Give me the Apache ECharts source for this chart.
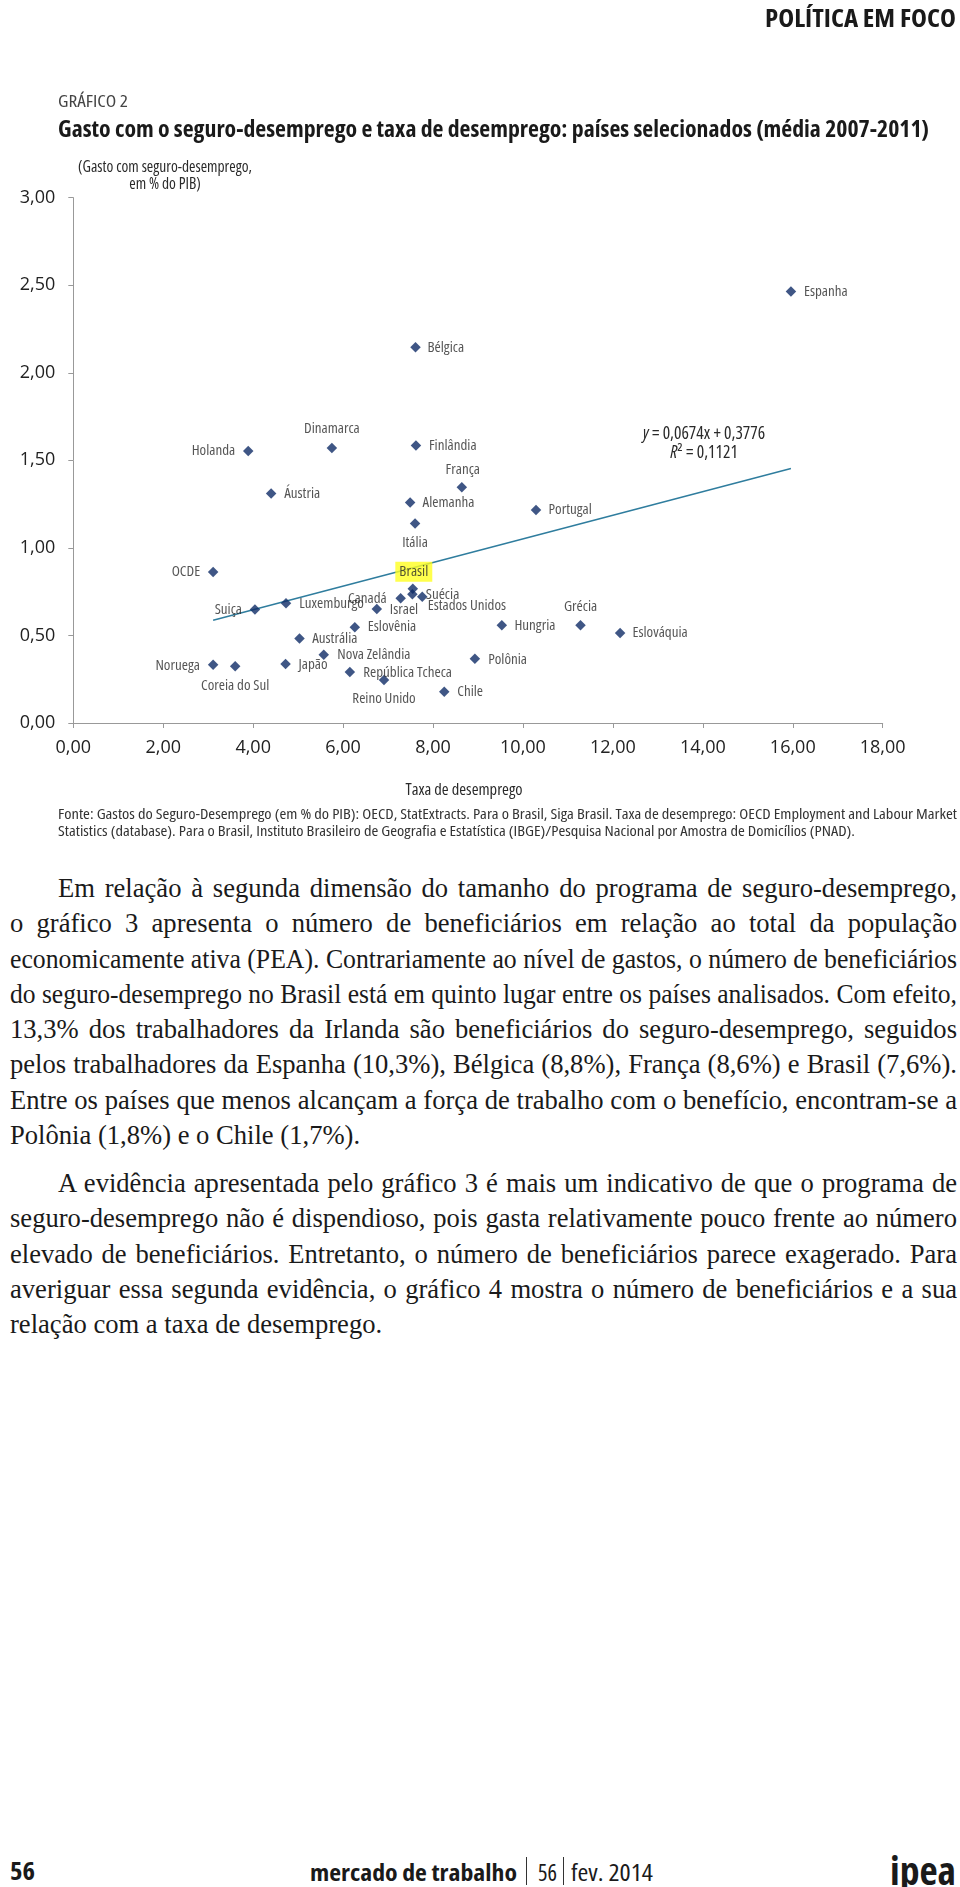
<!DOCTYPE html>
<html><head><meta charset="utf-8">
<script src="https://cdn.jsdelivr.net/npm/echarts@6/dist/echarts.min.js"></script>
<style>
html,body{margin:0;padding:0;background:#fff;}
#page{position:relative;width:960px;height:1887px;overflow:hidden;background:#fff;}
#chart{position:absolute;left:0;top:0;width:960px;height:870px;}
.cond{font-family:"Open Sans",sans-serif;font-stretch:75%;}
.abs{position:absolute;white-space:nowrap;transform-origin:0 50%;}
.fit{display:inline-block;transform-origin:0 50%;}
.para{position:absolute;left:10px;width:947px;font-family:"Liberation Serif",serif;font-size:26.6px;color:#1a1a1a;}
.ln{height:35.3px;line-height:35.3px;white-space:nowrap;box-sizing:border-box;}
.ind{padding-left:48px;}
</style></head>
<body><div id="page">
<div id="chart"></div>
<div class="abs cond" style="left:765px;top:3px;font-size:25px;font-weight:bold;color:#1a1a1a;line-height:28px"><span class="fit" data-w="191">POLÍTICA EM FOCO</span></div>
<div class="abs cond" style="left:58px;top:92px;font-size:16px;color:#444;line-height:18px"><span class="fit" data-w="70">GRÁFICO 2</span></div>
<div class="abs cond" style="left:58px;top:115px;font-size:23px;font-weight:bold;color:#1a1a1a;line-height:26px"><span class="fit" data-w="871">Gasto com o seguro-desemprego e taxa de desemprego: países selecionados (média 2007-2011)</span></div>

<div class="abs cond" style="left:58px;top:806px;width:899px;font-size:14.5px;color:#333;line-height:16.5px">
<div style="white-space:nowrap"><span class="fit" data-w="899">Fonte: Gastos do Seguro-Desemprego (em % do PIB): OECD, StatExtracts. Para o Brasil, Siga Brasil. Taxa de desemprego: OECD Employment and Labour Market</span></div>
<div style="white-space:nowrap"><span class="fit" data-w="797">Statistics (database). Para o Brasil, Instituto Brasileiro de Geografia e Estatística (IBGE)/Pesquisa Nacional por Amostra de Domicílios (PNAD).</span></div>
</div>

<div class="para" style="top:871px">
<div class="ln jl ind"><span>Em relação à segunda dimensão do tamanho do programa de seguro-desemprego,</span></div>
<div class="ln jl"><span>o gráfico 3 apresenta o número de beneficiários em relação ao total da população</span></div>
<div class="ln jl"><span>economicamente ativa (PEA). Contrariamente ao nível de gastos, o número de beneficiários</span></div>
<div class="ln jl"><span>do seguro-desemprego no Brasil está em quinto lugar entre os países analisados. Com efeito,</span></div>
<div class="ln jl"><span>13,3% dos trabalhadores da Irlanda são beneficiários do seguro-desemprego, seguidos</span></div>
<div class="ln jl"><span>pelos trabalhadores da Espanha (10,3%), Bélgica (8,8%), França (8,6%) e Brasil (7,6%).</span></div>
<div class="ln jl"><span>Entre os países que menos alcançam a força de trabalho com o benefício, encontram-se a</span></div>
<div class="ln"><span>Polônia (1,8%) e o Chile (1,7%).</span></div>
</div>
<div class="para" style="top:1166px">
<div class="ln jl ind"><span>A evidência apresentada pelo gráfico 3 é mais um indicativo de que o programa de</span></div>
<div class="ln jl"><span>seguro-desemprego não é dispendioso, pois gasta relativamente pouco frente ao número</span></div>
<div class="ln jl"><span>elevado de beneficiários. Entretanto, o número de beneficiários parece exagerado. Para</span></div>
<div class="ln jl"><span>averiguar essa segunda evidência, o gráfico 4 mostra o número de beneficiários e a sua</span></div>
<div class="ln"><span>relação com a taxa de desemprego.</span></div>
</div>

<div class="abs cond" style="left:10px;top:1857px;font-size:24px;font-weight:bold;color:#1a1a1a;line-height:28px"><span class="fit" data-w="25">56</span></div>
<div class="abs cond" style="left:310px;top:1858px;font-size:23px;font-weight:bold;color:#1a1a1a;line-height:28px"><span class="fit" data-w="207">mercado de trabalho</span></div>
<div style="position:absolute;left:526px;top:1857px;width:1px;height:28px;background:#333"></div>
<div class="abs cond" style="left:538px;top:1858px;font-size:23px;color:#1a1a1a;line-height:28px"><span class="fit" data-w="19">56</span></div>
<div style="position:absolute;left:563px;top:1857px;width:1px;height:28px;background:#333"></div>
<div class="abs cond" style="left:571px;top:1858px;font-size:23px;color:#1a1a1a;line-height:28px"><span class="fit" data-w="82">fev. 2014</span></div>
<div class="abs cond" style="left:890px;top:1850px;font-size:40px;font-weight:bold;color:#1a1a1a;line-height:40px"><span class="fit" data-w="66">ipea</span></div>
</div>
<script>
// ---- data ----
const countries = ['Espanha','Bélgica','Holanda','Dinamarca','Finlândia','França','Áustria','Alemanha','Portugal','Itália','OCDE','Brasil','Suécia','Estados Unidos','Canadá','Israel','Suiça','Luxemburgo','Hungria','Grécia','Eslovênia','Eslováquia','Austrália','Nova Zelândia','Polônia','Noruega','Coreia do Sul','Japão','República Tcheca','Reino Unido','Chile'];
const unemployment = [15.96,7.61,3.89,5.75,7.62,8.64,4.40,7.49,10.29,7.60,3.11,7.55,7.54,7.76,7.28,6.75,4.04,4.73,9.53,11.28,6.26,12.16,5.03,5.57,8.93,3.11,3.60,4.72,6.15,6.91,8.25];
const spending = [2.465,2.146,1.554,1.571,1.585,1.347,1.310,1.259,1.217,1.139,0.863,0.767,0.735,0.721,0.712,0.651,0.648,0.684,0.558,0.558,0.547,0.514,0.482,0.390,0.367,0.333,0.324,0.337,0.291,0.246,0.179];
const xTicks = [0,2,4,6,8,10,12,14,16,18];
const yTicks = [0,0.5,1,1.5,2,2.5,3];
const trendSlope = 0.0674, trendIntercept = 0.3776, trendR2 = 0.1121;

// ---- label placement (style) : [dx, dy, align] from marker centre ----
const labelPlace = {
 'Espanha':[13,0,'left'],'Bélgica':[12,0,'left'],'Holanda':[-13,0,'right'],'Dinamarca':[0,-19,'center'],
 'Finlândia':[13,0,'left'],'França':[1,-17,'center'],'Áustria':[13,0,'left'],'Alemanha':[12.5,0,'left'],
 'Portugal':[12.5,0,'left'],'Itália':[0,19.5,'center'],'OCDE':[-13,0,'right'],'Brasil':[1,-17,'center'],
 'Suécia':[13.4,0.7,'left'],'Estados Unidos':[5.4,9,'left'],'Canadá':[-14,0,'right'],'Israel':[13,1,'left'],
 'Suiça':[-13,0,'right'],'Luxemburgo':[13.3,0.7,'left'],'Hungria':[12.6,0,'left'],'Grécia':[0,-18.6,'center'],
 'Eslovênia':[13,0,'left'],'Eslováquia':[12.4,0,'left'],'Austrália':[12.7,0.3,'left'],'Nova Zelândia':[13.6,0,'left'],
 'Polônia':[13.3,0.6,'left'],'Noruega':[-13.3,0.6,'right'],'Coreia do Sul':[0,19.4,'center'],'Japão':[13,0.3,'left'],
 'República Tcheca':[13.3,0.7,'left'],'Reino Unido':[0,19.3,'center'],'Chile':[13,0.3,'left']
};
const SYM = 10.5;
const FAM = '"Open Sans",sans-serif';
const fmt = v => v.toFixed(2).replace('.', ',');

const pts = countries.map((n,i)=>{
  const lp = labelPlace[n];
  const lab = {show:true, position:[SYM/2+lp[0], SYM/2+lp[1]], align:lp[2], verticalAlign:'middle',
    formatter:n, color:'#2a2a2a', fontSize:15, fontWeight:'condensed', fontFamily:FAM};
  if (n==='Brasil'){ lab.backgroundColor='#ffff20'; lab.padding=[3,4,2,4]; }
  return {name:n, value:[unemployment[i], spending[i]], label:lab};
});
const xmin = Math.min(...unemployment), xmax = Math.max(...unemployment);
const trend = [[xmin, trendSlope*xmin+trendIntercept],[xmax, trendSlope*xmax+trendIntercept]];
const fmtNum = v => String(v).replace('.', ',');

const chart = echarts.init(document.getElementById('chart'));
const axisCommon = {
  type:'value', splitLine:{show:false},
  axisLine:{show:true, onZero:false, lineStyle:{color:'#999',width:1}},
  axisTick:{show:true, inside:false, length:5, lineStyle:{color:'#999',width:1}},
  axisLabel:{formatter:fmt, fontSize:18, color:'#222', fontFamily:FAM}
};
chart.setOption({
  animation:false,
  grid:{left:73.3, right:77.3, top:197.7, bottom:147, containLabel:false, outerBoundsMode:'none'},
  xAxis:Object.assign({}, axisCommon, {min:xTicks[0], max:xTicks[xTicks.length-1], interval:xTicks[1]-xTicks[0],
    axisLabel:Object.assign({}, axisCommon.axisLabel, {margin:16})}),
  yAxis:Object.assign({}, axisCommon, {min:yTicks[0], max:yTicks[yTicks.length-1], interval:yTicks[1]-yTicks[0],
    axisLabel:Object.assign({}, axisCommon.axisLabel, {margin:18})}),
  series:[
    {type:'line', data:trend, showSymbol:false, silent:true, z:2,
     lineStyle:{color:'#2f7d9e', width:1.5}},
    {type:'scatter', data:pts, symbol:'diamond', symbolSize:SYM, z:3,
     itemStyle:{color:'#0f2c66'}, labelLayout:{hideOverlap:false}}
  ],
  graphic:[
    {type:'text', x:165, y:176, style:{text:'(Gasto com seguro-desemprego,\nem % do PIB)', fill:'#2a2a2a',
      font:'condensed 15.5px '+FAM, align:'center', verticalAlign:'middle', lineHeight:17}},
    {type:'text', x:464, y:790, style:{text:'Taxa de desemprego', fill:'#2a2a2a', font:'condensed 16.5px '+FAM, align:'center', verticalAlign:'middle'}},
    {type:'text', x:704, y:444, style:{
      text:'{i|y} = '+fmtNum(trendSlope)+'x + '+fmtNum(trendIntercept)+'\n{i|R}² = '+fmtNum(trendR2),
      fill:'#2a2a2a', font:'condensed 17.5px '+FAM, align:'center', verticalAlign:'middle', lineHeight:19,
      rich:{i:{fontStyle:'italic', fontWeight:'condensed', fontSize:17.5, fontFamily:FAM, fill:'#2a2a2a'}}}}
  ]
});

// ---- text fitting ----
document.querySelectorAll('.fit').forEach(s=>{
  const t = parseFloat(s.dataset.w); const w = s.getBoundingClientRect().width;
  if (w>0) s.style.transform = 'scaleX('+(t/w)+')';
});
document.querySelectorAll('.jl').forEach(el=>{
  const span = el.firstElementChild;
  const cs = getComputedStyle(el);
  const target = el.clientWidth - parseFloat(cs.paddingLeft) - parseFloat(cs.paddingRight);
  const w = span.getBoundingClientRect().width;
  const sp = (span.textContent.match(/ /g)||[]).length;
  let ws = (target - w)/sp;
  if (ws < -1.5) { span.style.display='inline-block'; span.style.transformOrigin='0 50%'; span.style.transform='scaleX('+(target/w)+')'; }
  else span.style.wordSpacing = ws+'px';
});
</script>
</body></html>
